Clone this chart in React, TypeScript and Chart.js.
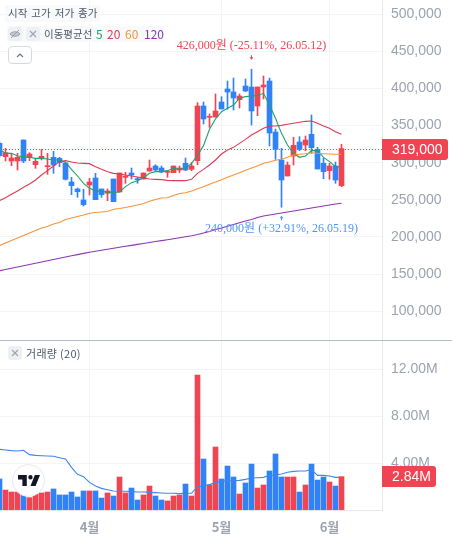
import React, { useEffect, useRef } from "react";
import { Chart, registerables } from "chart.js";

Chart.register(...registerables);

const monthLabels = ["4월", "5월", "6월"];
const monthIndex = [15, 37, 55];
const priceTicks = [100000, 150000, 200000, 250000, 300000, 350000, 400000, 450000, 500000];
const volumeTicks = [4, 8, 12];

const opens = [326100,308130,302290,302290,330590,306790,297350,305890,294660,307240,305890,299600,274000,264560,249740,269950,279390,264560,258720,278040,260520,280280,286120,278040,278040,288820,295560,292860,287020,286570,290170,299150,291060,302740,376420,361150,361590,381810,399330,395290,384950,403370,402020,376420,402020,410110,341380,303640,282080,309030,327900,323860,338230,318020,299150,289270,295560,269050];
const closes = [309480,313520,306340,307240,302290,311730,301850,308580,295560,296900,300050,277590,269050,260970,243450,274000,250190,256920,261870,247490,286120,281180,283430,277140,286120,292860,290170,287470,287920,295560,292860,290170,295560,376420,358900,362490,369680,372370,395290,387200,389900,396630,369680,402020,404720,340030,318020,276690,296900,323410,318020,330590,320260,291510,287920,295560,276690,319000];
const highs = [328000,319360,312630,312630,330590,313520,305890,318020,312630,315320,307240,299600,280280,265910,264110,278940,285670,264560,264560,278040,286120,287020,292860,280280,286120,303640,297350,295560,289270,295560,295560,306340,300050,380900,381810,365640,392590,389000,410110,414150,392590,412800,426000,402020,416850,414150,345420,319360,300950,334190,335090,335980,364290,320710,305890,299150,300950,324750];
const lows = [307500,302290,296000,290170,300050,302740,292410,303640,284330,285670,294660,276690,256920,253330,241650,256480,250190,253330,248840,247490,260520,272200,278040,272200,278040,288370,288370,286570,280280,286570,286570,289270,289270,297350,352160,347670,361150,372370,371930,371030,373720,395730,350810,363390,385850,322510,304540,240000,282080,296900,316220,316220,312630,291510,278490,277590,272200,267700];
const ma5 = [318020,312630,312630,309030,308130,307240,305890,305890,304990,303640,303640,300500,291060,282080,272200,265460,262320,260970,260520,260070,260520,267710,273100,275790,279830,285670,287920,287920,289270,292410,291060,292410,299150,310000,323000,345000,358900,368780,373270,377770,386750,389000,389900,390340,393490,377770,359800,339580,323860,312630,307240,309030,316220,316220,307240,301400,294660,294210];
const ma20 = [248840,252880,257370,261870,266810,271300,276690,283430,289270,295560,301400,302740,300950,299600,299150,298700,294660,291060,287920,285670,284780,283430,282080,280730,279390,278040,277590,277140,276240,275790,275790,275790,277590,285670,291060,296900,303640,311730,317120,320710,326100,331490,337330,341830,346320,349470,349470,350360,351710,353060,354410,355760,356200,353060,349470,346320,341830,338230];
const ma60 = [188410,191780,195150,198520,201890,205260,208630,211990,214020,217380,219410,223450,225470,227500,229520,231810,232880,233560,234230,237200,238280,239620,241240,243000,245010,247980,250400,252430,252830,255800,258500,259570,261860,264960,267660,270890,273990,277090,280330,283420,286520,289760,292860,295550,299190,300940,303230,304580,307270,310380,311320,312130,313480,312670,312130,311730,311320,311320];
const ma120 = [154450,156070,157820,159440,161190,162810,164560,166170,167930,169550,171300,172910,174670,176150,177760,179380,180730,182080,183430,184640,185990,187340,188550,189900,191110,192460,193800,195020,196230,197580,198930,200280,201620,203240,205260,207290,209990,212000,214290,216720,219010,221420,223450,226150,228180,229520,230870,232220,233560,234910,236260,237600,238950,240300,241650,242990,244340,245290];
const volumes = [2.64,1.70,1.53,1.53,1.28,1.05,1.36,1.45,1.53,1.79,1.28,1.28,1.53,1.11,1.62,1.62,1.62,1.02,1.45,1.19,2.81,1.45,1.87,0.85,1.28,2.04,1.19,0.85,0.77,1.19,1.28,2.21,1.19,11.49,4.34,2.13,5.36,2.64,3.74,2.81,1.36,2.30,3.91,1.87,2.13,3.32,4.77,2.81,2.81,2.81,1.53,2.13,3.91,2.55,2.81,2.38,2.04,2.84];
const volumeMa = [5.16,5.11,5.05,5.02,5.08,4.71,4.65,4.62,4.60,4.57,4.45,4.34,3.63,3.04,2.84,2.35,2.04,1.84,1.73,1.62,1.59,1.59,1.56,1.53,1.53,1.50,1.48,1.45,1.42,1.42,1.39,1.42,1.42,1.99,2.07,2.16,2.33,2.44,2.50,2.50,2.52,2.61,2.72,2.75,2.78,2.95,2.98,3.06,3.21,3.29,3.32,3.32,3.43,2.95,2.95,2.89,2.78,2.78];

const highNote = "426,000원 (-25.11%, 26.05.12)";
const lowNote = "240,000원 (+32.91%, 26.05.19)";
const highValue = 426000;
const lowValue = 240000;
const highIndex = 42;
const lowIndex = 47;
const lastPriceText = "319,000";
const lastVolumeText = "2.84M";

const RED = "#f04452";
const BLUE = "#3182f6";
const GRID = "#f2f4f6";
const AXIS = "#e5e8eb";
const TICK = "#9ca3af";
const TICK_FONT = { family: '"Liberation Sans", Arial, sans-serif', size: 14 };
const UI_FONT = '"Noto Sans CJK KR", "Noto Sans", sans-serif';

const xs = (arr: number[]) => arr.map((y, x) => ({ x, y }));
const candleColors = opens.map((o, i) => (closes[i] >= o ? RED : BLUE));
const xBounds = { min: 1 / 12, max: 63.75 };

function tag(ctx: CanvasRenderingContext2D, x: number, y: number, w: number, h: number, text: string) {
  ctx.save();
  ctx.fillStyle = RED;
  ctx.beginPath();
  ctx.roundRect(x, y, w, h, [0, 3, 3, 0]);
  ctx.fill();
  ctx.fillStyle = "#fff";
  ctx.font = '14px "Liberation Sans", Arial, sans-serif';
  ctx.textBaseline = "middle";
  ctx.textAlign = "left";
  ctx.fillText(text, x + 10, y + h / 2 + 0.5);
  ctx.restore();
}

const pricePlugin = {
  id: "priceOverlay",
  afterDatasetsDraw(chart: any) {
    const { ctx, chartArea, scales } = chart;
    const last = closes[closes.length - 1];
    const y = Math.round(scales.y.getPixelForValue(last)) + 0.5;
    ctx.save();
    ctx.strokeStyle = RED;
    ctx.setLineDash([1, 2]);
    ctx.lineWidth = 1;
    ctx.beginPath();
    ctx.moveTo(chartArea.left, y);
    ctx.lineTo(chartArea.right, y);
    ctx.stroke();
    ctx.setLineDash([]);

    const font = '12px "Liberation Serif", "Noto Sans CJK KR", serif';
    ctx.font = font;
    ctx.textAlign = "center";
    ctx.textBaseline = "middle";
    const hx = scales.x.getPixelForValue(highIndex);
    const hy = scales.y.getPixelForValue(highValue);
    ctx.fillStyle = RED;
    ctx.fillText(highNote, hx, hy - 23);
    ctx.strokeStyle = RED;
    ctx.beginPath();
    ctx.moveTo(hx, hy - 14);
    ctx.lineTo(hx, hy - 11);
    ctx.stroke();
    ctx.beginPath();
    ctx.moveTo(hx - 2, hy - 12);
    ctx.lineTo(hx + 2, hy - 12);
    ctx.lineTo(hx, hy - 9.5);
    ctx.closePath();
    ctx.fill();

    const lx = scales.x.getPixelForValue(lowIndex);
    const ly = scales.y.getPixelForValue(lowValue);
    ctx.fillStyle = "#4f97f7";
    ctx.fillText(lowNote, lx, ly + 22);
    ctx.strokeStyle = "#4f97f7";
    ctx.beginPath();
    ctx.moveTo(lx, ly + 13);
    ctx.lineTo(lx, ly + 10);
    ctx.stroke();
    ctx.beginPath();
    ctx.moveTo(lx - 2, ly + 11);
    ctx.lineTo(lx + 2, ly + 11);
    ctx.lineTo(lx, ly + 8.5);
    ctx.closePath();
    ctx.fill();
    ctx.restore();
  },
  afterDraw(chart: any) {
    tag(chart.ctx, chart.chartArea.right, 139, 66, 21, lastPriceText);
  },
};

const volumePlugin = {
  id: "volumeOverlay",
  afterDraw(chart: any) {
    tag(chart.ctx, chart.chartArea.right, 126, 54, 21, lastVolumeText);
  },
};

const monthTickSet = (scale: any) => {
  scale.ticks = monthIndex.map((value) => ({ value }));
};
const zeroPadding = (s: any) => {
  s.paddingLeft = 0;
  s.paddingRight = 0;
  s.paddingTop = 0;
  s.paddingBottom = 0;
};

export default function App() {
  const topRef = useRef<HTMLCanvasElement>(null);
  const bottomRef = useRef<HTMLCanvasElement>(null);

  useEffect(() => {
    const common: any = { responsive: false, animation: false, devicePixelRatio: 1, layout: { padding: 0 } };
    const plugins = { legend: { display: false }, tooltip: { enabled: false }, title: { display: false } };

    const lineSet = (data: number[], color: string, order = 0) => ({
      type: "line" as const,
      data: xs(data),
      borderColor: color,
      borderWidth: 1.1,
      pointRadius: 0,
      tension: 0,
      order,
    });

    const top = new Chart(topRef.current!, {
      type: "bar",
      data: {
        datasets: [
          lineSet(ma120, "#8e35b5"),
          lineSet(ma60, "#f7933a"),
          lineSet(ma20, "#dc3a55"),
          lineSet(ma5, "#1fa06f"),
          {
            data: opens.map((o, x) => ({ x, y: [o, closes[x]] })),
            backgroundColor: candleColors,
            barThickness: 5,
            grouped: false,
            minBarLength: 1,
            order: 1,
          },
          {
            data: lows.map((l, x) => ({ x, y: [l, highs[x]] })),
            backgroundColor: candleColors,
            barThickness: 1,
            grouped: false,
            order: 2,
          },
        ] as any,
      },
      options: {
        ...common,
        plugins,
        scales: {
          x: {
            type: "linear",
            ...xBounds,
            offset: false,
            afterBuildTicks: monthTickSet,
            afterFit: (s: any) => { s.height = 0; zeroPadding(s); },
            ticks: { display: false },
            grid: { color: GRID, drawTicks: false, offset: false },
            border: { display: false },
          },
          y: {
            position: "right",
            min: 61054,
            max: 519272,
            afterBuildTicks: (s: any) => { s.ticks = priceTicks.map((value) => ({ value })); },
            afterFit: (s: any) => { s.width = 70; zeroPadding(s); },
            ticks: {
              color: TICK,
              font: TICK_FONT,
              padding: 9,
              callback: (v: any) => Number(v).toLocaleString("en-US"),
            },
            grid: { color: GRID, drawTicks: false },
            border: { color: AXIS },
          },
        },
      } as any,
      plugins: [pricePlugin],
    });

    const bottom = new Chart(bottomRef.current!, {
      type: "bar",
      data: {
        datasets: [
          { ...lineSet(volumeMa, "#3f86f0") },
          {
            data: xs(volumes),
            backgroundColor: candleColors,
            barThickness: 5,
            grouped: false,
            order: 1,
          },
        ] as any,
      },
      options: {
        ...common,
        plugins,
        scales: {
          x: {
            type: "linear",
            ...xBounds,
            offset: false,
            afterBuildTicks: monthTickSet,
            afterFit: (s: any) => { s.height = 32; zeroPadding(s); },
            ticks: {
              color: TICK,
              font: { family: UI_FONT, size: 13, weight: "700" },
              padding: 9,
              maxRotation: 0,
              autoSkip: false,
              callback: (v: any) => monthLabels[monthIndex.indexOf(Number(v))] ?? "",
            },
            grid: { color: GRID, drawTicks: false, offset: false },
            border: { color: AXIS },
          },
          y: {
            position: "right",
            min: 0,
            max: 14.47,
            afterBuildTicks: (s: any) => { s.ticks = volumeTicks.map((value) => ({ value })); },
            afterFit: (s: any) => { s.width = 70; zeroPadding(s); },
            ticks: {
              color: TICK,
              font: TICK_FONT,
              padding: 9,
              callback: (v: any) => Number(v).toFixed(2) + "M",
            },
            grid: { color: GRID, drawTicks: false },
            border: { color: AXIS },
          },
        },
      } as any,
      plugins: [volumePlugin],
    });

    return () => {
      top.destroy();
      bottom.destroy();
    };
  }, []);

  const chip: React.CSSProperties = {
    position: "absolute",
    width: 14,
    height: 14,
    borderRadius: 3,
    background: "#eef0f3",
    display: "flex",
    alignItems: "center",
    justifyContent: "center",
  };
  const xIcon = (
    <svg width="8" height="8" viewBox="0 0 8 8">
      <path d="M1 1 L7 7 M7 1 L1 7" stroke="#9ca3af" strokeWidth="1.1" fill="none" />
    </svg>
  );
  const label: React.CSSProperties = {
    position: "absolute",
    fontFamily: UI_FONT,
    fontSize: 10.5,
    lineHeight: "14px",
    color: "#4e5968",
    whiteSpace: "nowrap",
  };

  return (
    <div style={{ position: "fixed", left: 0, top: 0, width: 452, height: 542, background: "#fff", overflow: "hidden" }}>
      <canvas ref={topRef} width={452} height={340} style={{ position: "absolute", left: 0, top: 0, display: "block" }} />
      <canvas ref={bottomRef} width={452} height={202} style={{ position: "absolute", left: 0, top: 340, display: "block" }} />
      <div style={{ position: "absolute", left: 0, top: 340, width: 452, height: 1, background: "#b6bcc8" }} />

      <div style={{ position: "absolute", left: 5, top: 5, width: 95, height: 17, background: "rgba(247,248,250,0.85)" }} />
      <div style={{ ...label, left: 8, top: 6, wordSpacing: 1.7 }}>시작 고가 저가 종가</div>

      <div style={{ position: "absolute", left: 7, top: 26, width: 157, height: 16, background: "rgba(247,248,250,0.85)" }} />
      <div style={{ ...chip, left: 8, top: 27 }}>
        <svg width="12" height="10" viewBox="0 0 12 10">
          <path d="M1 5 C3 2 9 2 11 5 C9 8 3 8 1 5 Z" stroke="#9ca3af" strokeWidth="1" fill="#c3c8d0" />
          <path d="M2 9 L10 1" stroke="#9ca3af" strokeWidth="1" />
        </svg>
      </div>
      <div style={{ ...chip, left: 26, top: 27 }}>{xIcon}</div>
      <div style={{ ...label, left: 44, top: 27 }}>이동평균선</div>
      <div style={{ ...label, left: 96, top: 27, fontSize: 12, color: "#1fa06f" }}>5</div>
      <div style={{ ...label, left: 107, top: 27, fontSize: 12, color: "#dc3a55" }}>20</div>
      <div style={{ ...label, left: 125, top: 27, fontSize: 12, color: "#f7933a" }}>60</div>
      <div style={{ ...label, left: 144, top: 27, fontSize: 12, color: "#8e35b5" }}>120</div>

      <div style={{ position: "absolute", left: 8, top: 46, width: 22, height: 16, boxSizing: "content-box", border: "1px solid #d5d9e0", borderRadius: 4, background: "#fff", display: "flex", alignItems: "center", justifyContent: "center" }}>
        <svg width="8" height="5" viewBox="0 0 8 5">
          <path d="M1 4 L4 1 L7 4" stroke="#6b7280" strokeWidth="1.2" fill="none" />
        </svg>
      </div>

      <div style={{ ...chip, left: 8, top: 346 }}>{xIcon}</div>
      <div style={{ ...label, left: 26, top: 346, fontSize: 11, letterSpacing: 0.3 }}>거래량 (20)</div>

      <div style={{ position: "absolute", left: 12, top: 464, width: 33, height: 33, borderRadius: "50%", background: "#fff", border: "1px solid #e6e8ec", boxSizing: "border-box", display: "flex", alignItems: "center", justifyContent: "center" }}>
        <svg width="22" height="11" viewBox="2 6 30 15">
          <path d="M14 6H2v6h6v9h6V6Zm12 15h-7l6-15h7l-6 15Zm-7-9a3 3 0 1 0 0-6 3 3 0 0 0 0 6Z" fill="#131722" />
        </svg>
      </div>
    </div>
  );
}
